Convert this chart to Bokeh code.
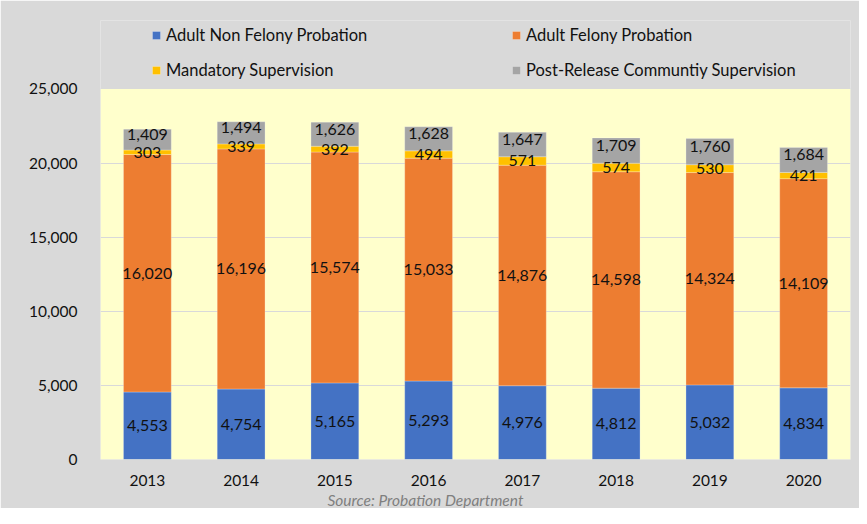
from bokeh.plotting import figure
from bokeh.models import (ColumnDataSource, NumeralTickFormatter, Legend, LegendItem, Title,
                          FixedTicker, BoxAnnotation)
from bokeh.core.properties import value
from bokeh.embed import file_html
from bokeh.resources import INLINE

years = ["2013", "2014", "2015", "2016", "2017", "2018", "2019", "2020"]
non_felony = [4553, 4754, 5165, 5293, 4976, 4812, 5032, 4834]
felony = [16020, 16196, 15574, 15033, 14876, 14598, 14324, 14109]
mandatory = [303, 339, 392, 494, 571, 574, 530, 421]
prcs = [1409, 1494, 1626, 1628, 1647, 1709, 1760, 1684]

series_names = ["Adult Non Felony Probation", "Adult Felony Probation",
                "Mandatory Supervision", "Post-Release Communtiy Supervision"]
keys = ["non_felony", "felony", "mandatory", "prcs"]
colors = ["#4472C4", "#ED7D31", "#FFC000", "#A5A5A5"]
y_ticks = [0, 5000, 10000, 15000, 20000, 25000]
y_max = 25000

FONT = "Lato"
FS = "15.5px"
TXT = "#111111"

# layout (pixels): the yellow plotting area spans y_max over 374 px; the frame
# extends above it to host the legend
TOP, FRAME_H, PLOT_H = 20, 443, 374
y_end = y_max * FRAME_H / PLOT_H

data = dict(years=years, non_felony=non_felony, felony=felony, mandatory=mandatory, prcs=prcs)
source = ColumnDataSource(data)

p = figure(x_range=years, y_range=(0, y_end), width=859, height=508,
           output_backend="svg", toolbar_location=None,
           min_border_left=100, min_border_right=9, min_border_top=TOP, min_border_bottom=45)
p.background_fill_color = "#D9D9D9"
p.border_fill_color = "#D9D9D9"
p.outline_line_color = None

plot_bg = BoxAnnotation(bottom=0, top=y_max, fill_color="#FFFFCC", fill_alpha=1,
                        line_color=None, level="image")
p.add_layout(plot_bg)

renderers = p.vbar_stack(keys, x="years", width=0.51, color=colors, source=source,
                         line_color="white", line_width=0.5, line_alpha=0.5)

# data labels
cum = [0] * len(years)
for k, vals in zip(keys, [non_felony, felony, mandatory, prcs]):
    mids = [c + v / 2 for c, v in zip(cum, vals)]
    cum = [c + v for c, v in zip(cum, vals)]
    lsrc = ColumnDataSource(dict(x=years, y=mids, t=[f"{v:,}" for v in vals]))
    p.text(x="x", y="y", text="t", source=lsrc, text_align="center", text_baseline="middle",
           text_font=value(FONT), text_font_size="16px", text_color=TXT,
           y_offset=(-5 if k == "prcs" else 0))

p.yaxis.ticker = FixedTicker(ticks=y_ticks)
p.yaxis.formatter = NumeralTickFormatter(format="0,0")
for ax in (p.xaxis[0], p.yaxis[0]):
    ax.axis_line_color = None
    ax.major_tick_line_color = None
    ax.minor_tick_line_color = None
    ax.major_label_text_font = FONT
    ax.major_label_text_font_size = FS
    ax.major_label_text_color = TXT
p.yaxis.major_label_standoff = 17
p.xaxis.major_label_standoff = 9
p.xgrid.grid_line_color = None
p.ygrid.grid_line_color = "#D9D9D9"
p.ygrid.level = "underlay"
p.x_range.range_padding = 0

items = [LegendItem(label=n, renderers=[r]) for n, r in zip(series_names, renderers)]
legend = Legend(items=items, orientation="horizontal", ncols=2, location=(51, 379),
                padding=0, margin=0, spacing=15, label_width=330, label_height=20,
                glyph_width=10, glyph_height=10, label_standoff=5,
                label_text_font=FONT, label_text_font_size="16.5px", label_text_color=TXT,
                border_line_color=None, background_fill_alpha=0)
p.add_layout(legend, "center")

footer = Title(text="Source: Probation Department", align="left", offset=227, standoff=0,
               text_font=FONT, text_font_size="15.5px", text_font_style="italic",
               text_color="#7F7F7F")
p.add_layout(footer, "below")

open("out.html", "w").write(file_html(p, INLINE))
